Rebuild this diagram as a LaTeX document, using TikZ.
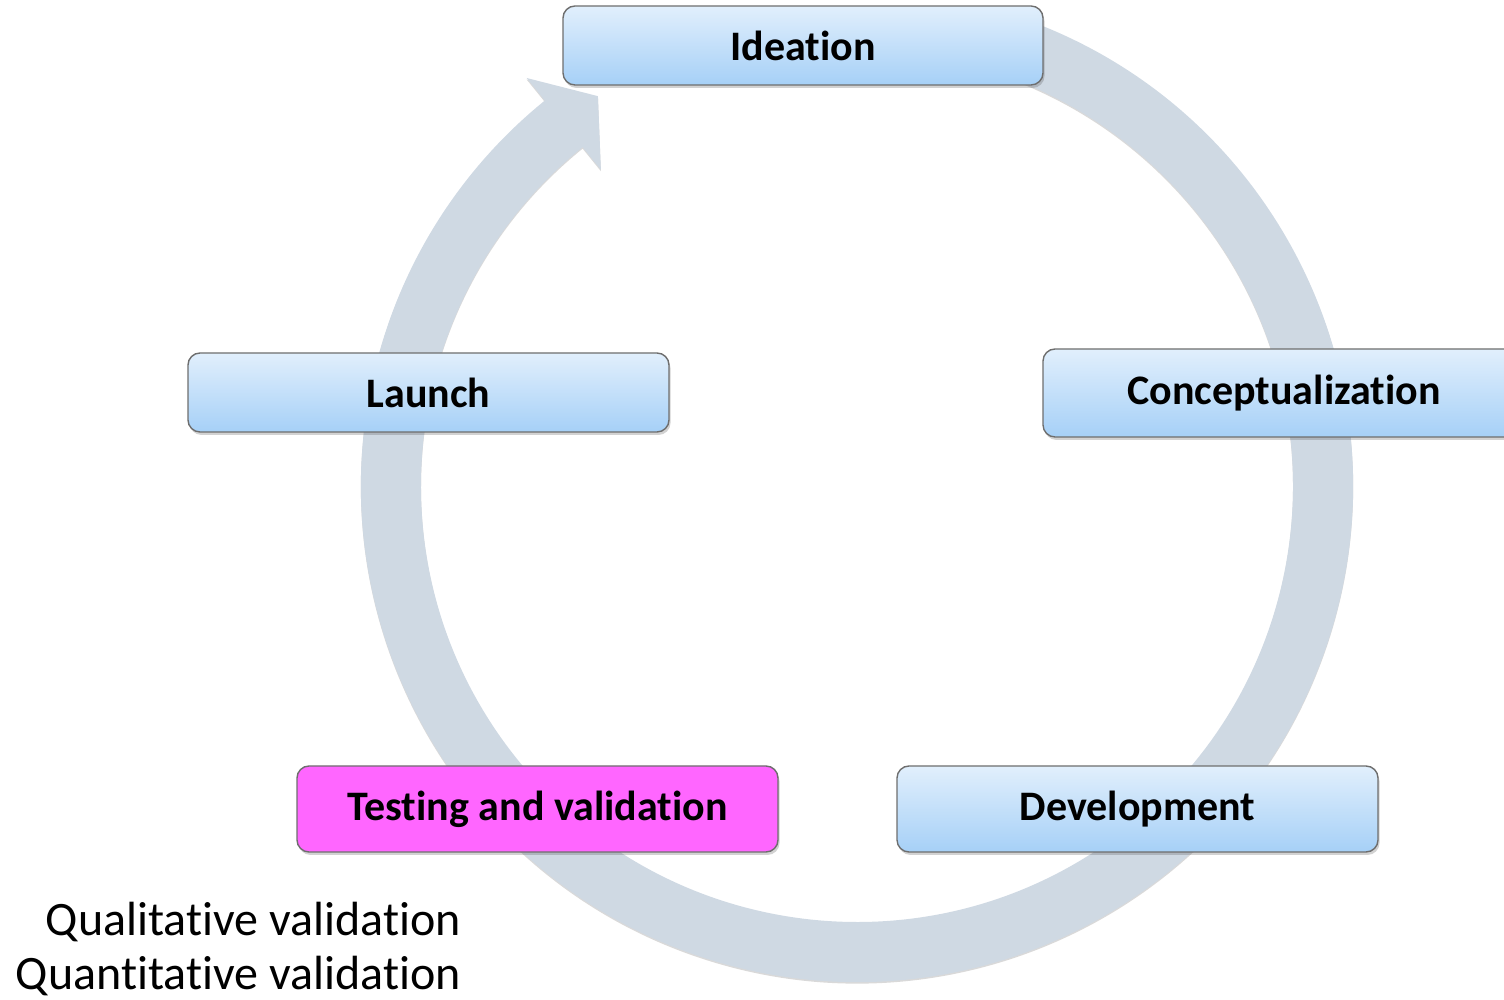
\documentclass[tikz,border=0pt]{standalone}
\usepackage{fontspec}
\setmainfont{Carlito}[Ligatures=NoCommon]
\usetikzlibrary{calc,shadows}

\definecolor{bandgray}{HTML}{CFD9E3}
\definecolor{boxtop}{HTML}{E1EFFC}
\definecolor{boxbottom}{HTML}{A6D0F7}
\definecolor{boxedge}{HTML}{6E6E6E}
\definecolor{hotpink}{HTML}{FF66FF}

\tikzset{
  stage/.style={
    draw=boxedge, line width=1.4pt, rounded corners=12pt,
    inner sep=0pt, align=center,
    font=\fontsize{42}{50}\selectfont\bfseries,
    drop shadow={shadow xshift=1.5pt, shadow yshift=-3pt, opacity=.25, fill=black!70}
  },
  bluestage/.style={stage, top color=boxtop, bottom color=boxbottom},
  pinkstage/.style={stage, fill=hotpink},
}

\begin{document}
\begin{tikzpicture}[x=1pt,y=1pt]
  \useasboundingbox (0,0) rectangle (1504,1000);
  \clip (0,0) rectangle (1504,1000);

  % circular arrow band running clockwise round the cycle
  \begin{scope}[shift={(857,514)}]
    \fill[bandgray,
          drop shadow={shadow xshift=0pt, shadow yshift=-1.5pt, opacity=.15, fill=black}]
      (72:496) arc[start angle=72, end angle=-231, radius=496]
      -- (129:525)
      -- ($(129:466)+(39:44)$)
      -- (129:407)
      -- (129:436)
      arc[start angle=-231, end angle=72, radius=436]
      -- cycle;
  \end{scope}

  % stages
  \node[bluestage, minimum width=480pt, minimum height=79pt] (ideation) at (803,954.5) {Ideation};
  \node[bluestage, minimum width=481pt, minimum height=79pt] (launch) at (428.5,607.5) {Launch};
  \node[bluestage, minimum width=482pt, minimum height=88pt] (concept) at (1284,607) {Conceptualization};
  \node[pinkstage, minimum width=481pt, minimum height=86pt] (testing) at (537.5,191) {Testing and validation};
  \node[bluestage, minimum width=481pt, minimum height=86pt] (development) at (1137.5,191) {Development};

  % kinds of validation
  \node[anchor=north east, align=right, inner sep=0pt,
        font=\fontsize{48}{54}\selectfont] (kinds) at (461,98)
    {Qualitative validation\\Quantitative validation};
\end{tikzpicture}
\end{document}
